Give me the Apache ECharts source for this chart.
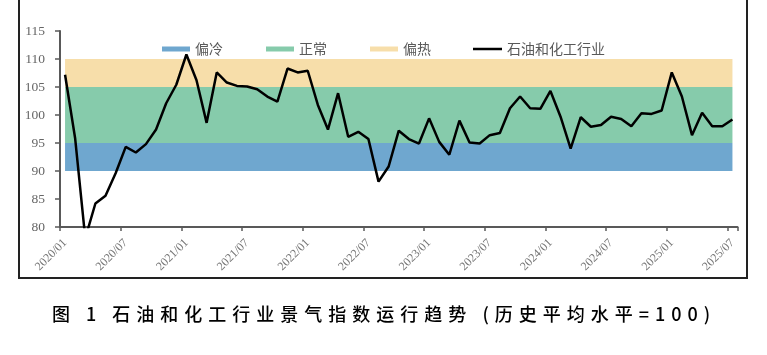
<!DOCTYPE html>
<html>
<head>
<meta charset="utf-8">
<script src="https://cdn.jsdelivr.net/npm/echarts@6/dist/echarts.min.js"></script>
<style>
html,body{margin:0;padding:0;background:#fff;}
#chart{width:767px;height:355px;}
</style>
</head>
<body>
<div id="chart"></div>
<script>
// ---- data ----
const categories = [];
for (let y = 2020; y <= 2025; y++) {
  for (let m = 1; m <= 12; m++) {
    if (y === 2025 && m > 7) break;
    categories.push(y + '/' + (m < 10 ? '0' + m : m));
  }
}
const industryIndex = [
  107.2, 95.8, 78.0, 84.2, 85.6, 89.6, 94.3, 93.3, 94.8, 97.4, 102.1, 105.4,
  110.8, 106.2, 98.6, 107.6, 105.8, 105.2, 105.1, 104.6, 103.3, 102.4, 108.3, 107.6,
  107.9, 101.8, 97.4, 103.9, 96.1, 97.0, 95.7, 88.1, 90.8, 97.2, 95.7, 94.9,
  99.4, 95.2, 92.9, 99.0, 95.1, 94.9, 96.4, 96.8, 101.2, 103.3, 101.2, 101.1,
  104.3, 99.7, 94.0, 99.6, 97.9, 98.2, 99.7, 99.3, 98.0, 100.3, 100.2, 100.8,
  107.6, 103.3, 96.4, 100.4, 98.0, 98.0, 99.2
];
const bandLevels = [90, 95, 105, 110];          // 偏冷 90-95, 正常 95-105, 偏热 105-110
const bandNames = ['偏冷', '正常', '偏热'];
const lineName = '石油和化工行业';
const yTicks = [80, 85, 90, 95, 100, 105, 110, 115];
const titleText = '图 1 石油和化工行业景气指数运行趋势 (历史平均水平=100)';

// ---- letter spacing for the caption (canvas) ----
const origFill = CanvasRenderingContext2D.prototype.fillText;
CanvasRenderingContext2D.prototype.fillText = function (t, x, y, mw) {
  if (t === titleText && 'letterSpacing' in this) {
    const prev = this.letterSpacing;
    this.letterSpacing = '6px';
    origFill.call(this, t, x, y, mw);
    this.letterSpacing = prev;
  } else {
    origFill.apply(this, arguments);
  }
};

const bandColors = ['#6FA7CF', '#86CBAB', '#F7DEAA'];
const baseData = categories.map(() => bandLevels[0]);
const bandSeries = bandNames.map((n, i) => ({
  name: n,
  type: 'line',
  stack: 'band',
  symbol: 'none',
  silent: true,
  lineStyle: { width: 0, opacity: 0 },
  itemStyle: { color: bandColors[i] },
  areaStyle: { color: bandColors[i], opacity: 1 },
  data: categories.map(() => bandLevels[i + 1] - bandLevels[i]),
  z: 1
}));

const legendText = { fontFamily: 'Noto Sans CJK SC', fontSize: 14, color: '#595959' };

const chart = echarts.init(document.getElementById('chart'), null, { renderer: 'canvas' });
chart.setOption({
  animation: false,
  backgroundColor: '#fff',
  title: {
    text: titleText,
    left: 52,
    top: 305,
    padding: 0,
    textStyle: { fontFamily: 'Noto Sans CJK SC', fontSize: 18, fontWeight: 500, color: '#000' }
  },
  legend: [{
    data: bandNames.map(n => ({ name: n, icon: 'rect' })),
    left: 157,
    top: 37,
    itemWidth: 28,
    itemHeight: 5,
    itemGap: 43,
    textStyle: legendText
  }, {
    data: [{ name: lineName, icon: 'rect' }],
    left: 468,
    top: 37,
    itemWidth: 29,
    itemHeight: 2.5,
    textStyle: legendText
  }],
  graphic: [{
    type: 'rect',
    shape: { x: 19, y: -5, width: 728, height: 283 },
    style: { fill: 'none', stroke: '#222', lineWidth: 2 },
    silent: true
  }],
  grid: { left: 60, right: 29.5, top: 31, bottom: 128 },
  xAxis: {
    type: 'category',
    data: categories,
    boundaryGap: true,
    axisLine: { lineStyle: { color: '#595959', width: 2 } },
    axisTick: { show: true, interval: 5, length: 4, lineStyle: { color: '#595959', width: 1.5 } },
    axisLabel: {
      interval: 5,
      rotate: 45,
      margin: 14,
      fontFamily: 'Liberation Serif',
      fontSize: 12,
      color: '#777'
    },
    splitLine: { show: false }
  },
  yAxis: {
    type: 'value',
    min: yTicks[0],
    max: yTicks[yTicks.length - 1],
    interval: 5,
    axisLine: { show: true, lineStyle: { color: '#595959', width: 2 } },
    axisTick: { show: true, length: 5, lineStyle: { color: '#595959', width: 1.5 } },
    axisLabel: { margin: 15, fontFamily: 'Liberation Serif', fontSize: 13.5, color: '#666' },
    splitLine: { show: false }
  },
  series: [{
    name: 'base',
    type: 'line',
    stack: 'band',
    symbol: 'none',
    silent: true,
    lineStyle: { width: 0, opacity: 0 },
    areaStyle: { opacity: 0 },
    data: baseData,
    z: 1
  }].concat(bandSeries).concat([{
    name: lineName,
    type: 'line',
    symbol: 'none',
    data: industryIndex,
    lineStyle: { color: '#000', width: 2.5 },
    itemStyle: { color: '#000' },
    z: 5
  }])
});
</script>
</body>
</html>
